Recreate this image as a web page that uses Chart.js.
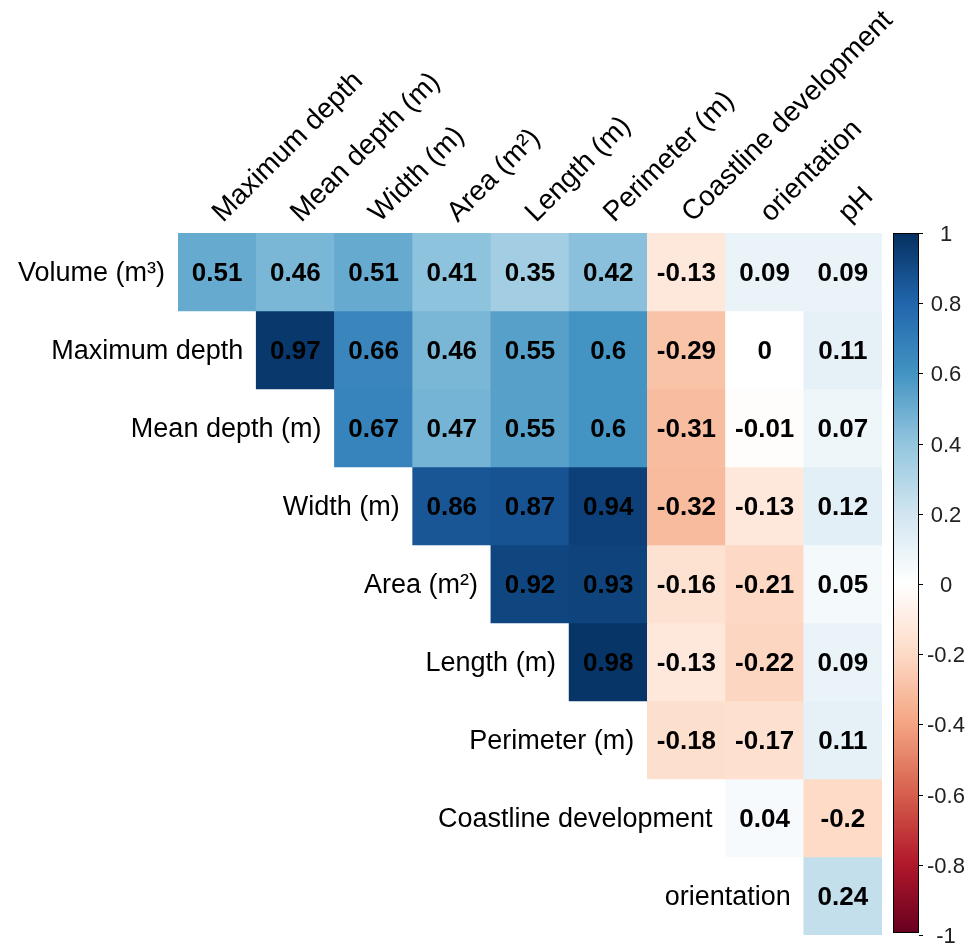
<!DOCTYPE html>
<html>
<head>
<meta charset="utf-8">
<title>Correlation matrix</title>
<script src="https://cdn.jsdelivr.net/npm/chart.js@4.4.1/dist/chart.umd.min.js"></script>
<style>
  html, body { margin: 0; padding: 0; background: #fff; }
  #wrap { width: 979px; height: 944px; position: relative; }
</style>
</head>
<body>
<div id="wrap"><canvas id="corr"></canvas></div>
<script>
// column and row names
var colLabels = ["Maximum depth", "Mean depth (m)", "Width (m)", "Area (m²)", "Length (m)",
  "Perimeter (m)", "Coastline development", "orientation", "pH"];
var rowLabels = ["Volume (m³)", "Maximum depth", "Mean depth (m)", "Width (m)", "Area (m²)",
  "Length (m)", "Perimeter (m)", "Coastline development", "orientation"];

// correlations, each row starts on the diagonal
var volumeRow = [0.51, 0.46, 0.51, 0.41, 0.35, 0.42, -0.13, 0.09, 0.09];
var maxDepthRow = [0.97, 0.66, 0.46, 0.55, 0.6, -0.29, 0, 0.11];
var meanDepthRow = [0.67, 0.47, 0.55, 0.6, -0.31, -0.01, 0.07];
var widthRow = [0.86, 0.87, 0.94, -0.32, -0.13, 0.12];
var areaRow = [0.92, 0.93, -0.16, -0.21, 0.05];
var lengthRow = [0.98, -0.13, -0.22, 0.09];
var perimeterRow = [-0.18, -0.17, 0.11];
var coastlineRow = [0.04, -0.2];
var orientationRow = [0.24];

// colour legend ticks
var legendTicks = [1, 0.8, 0.6, 0.4, 0.2, 0, -0.2, -0.4, -0.6, -0.8, -1];

var allRows = [volumeRow, maxDepthRow, meanDepthRow, widthRow, areaRow,
  lengthRow, perimeterRow, coastlineRow, orientationRow];

// RdBu palette from -1 to 1
var palette = ["#67001F", "#B2182B", "#D6604D", "#F4A582", "#FDDBC7", "#FFFFFF",
  "#D1E5F0", "#92C5DE", "#4393C3", "#2166AC", "#053061"];

function hexToRgb(h) {
  return [parseInt(h.substr(1, 2), 16), parseInt(h.substr(3, 2), 16), parseInt(h.substr(5, 2), 16)];
}

function colorFor(v) {
  var pos = (v + 1) / 2 * (palette.length - 1);
  var i = Math.min(Math.floor(pos), palette.length - 2);
  var t = pos - i;
  var a = hexToRgb(palette[i]);
  var b = hexToRgb(palette[i + 1]);
  var c = [0, 1, 2].map(function (k) { return Math.round(a[k] + (b[k] - a[k]) * t); });
  return "rgb(" + c.join(",") + ")";
}

// value at row r, column c (null below diagonal)
function cellValue(r, c) {
  if (c < r) return null;
  return allRows[r][c - r];
}

var FONT = "'Liberation Sans', Arial, sans-serif";

var datasets = allRows.map(function (row, r) {
  return {
    label: rowLabels[r],
    data: colLabels.map(function (name, c) {
      return c < r ? null : [r, r + 1];
    }),
    backgroundColor: function (ctx) {
      var v = cellValue(ctx.datasetIndex, ctx.dataIndex);
      return v === null ? "rgba(0,0,0,0)" : colorFor(v);
    },
    borderWidth: 0,
    grouped: false,
    barPercentage: 1,
    categoryPercentage: 1
  };
});

// labels, numbers and colour legend
var corrText = {
  id: "corrText",
  afterDatasetsDraw: function (chart) {
    var ctx = chart.ctx;
    var x = chart.scales.x;
    var y = chart.scales.y;
    var leg = chart.scales.legend;
    var half = (x.getPixelForValue(1) - x.getPixelForValue(0)) / 2;
    ctx.save();

    // numbers in cells
    ctx.fillStyle = "#000";
    ctx.font = "bold 26px " + FONT;
    ctx.textAlign = "center";
    ctx.textBaseline = "middle";
    for (var r = 0; r < rowLabels.length; r++) {
      for (var c = r; c < colLabels.length; c++) {
        ctx.fillText(String(cellValue(r, c)), x.getPixelForValue(c), y.getPixelForValue(r + 0.5) + 2);
      }
    }

    // row names left of first cell
    ctx.font = "27px " + FONT;
    ctx.textAlign = "right";
    for (var i = 0; i < rowLabels.length; i++) {
      ctx.fillText(rowLabels[i], x.getPixelForValue(i) - half - 13, y.getPixelForValue(i + 0.5) + 2);
    }

    // column names at 45 degrees
    ctx.font = "28px " + FONT;
    ctx.textAlign = "left";
    ctx.textBaseline = "alphabetic";
    for (var j = 0; j < colLabels.length; j++) {
      ctx.save();
      ctx.translate(x.getPixelForValue(j) + 6, chart.chartArea.top - 10);
      ctx.rotate(-Math.PI / 4);
      ctx.fillText(colLabels[j], 0, 0);
      ctx.restore();
    }

    // colour bar
    var bx = chart.chartArea.right + 11;
    var bw = 26;
    var top = leg.getPixelForValue(1);
    var bottom = leg.getPixelForValue(-1) - 2;
    var grad = ctx.createLinearGradient(0, bottom, 0, top);
    palette.forEach(function (col, k) {
      grad.addColorStop(k / (palette.length - 1), col);
    });
    ctx.fillStyle = grad;
    ctx.fillRect(bx, top, bw, bottom - top);
    ctx.strokeStyle = "#000";
    ctx.lineWidth = 1;
    ctx.strokeRect(bx + 0.5, top + 0.5, bw - 1, bottom - top - 1);

    ctx.font = "22px " + FONT;
    ctx.fillStyle = "#222";
    ctx.textAlign = "center";
    ctx.textBaseline = "middle";
    legendTicks.forEach(function (t) {
      var py = Math.round(leg.getPixelForValue(t)) + 0.5;
      ctx.beginPath();
      ctx.moveTo(bx + bw, py);
      ctx.lineTo(bx + bw + 4, py);
      ctx.stroke();
      ctx.fillText(String(t), bx + bw + 27, py + 1);
    });
    ctx.restore();
  }
};

new Chart(document.getElementById("corr").getContext("2d"), {
  type: "bar",
  data: {
    labels: colLabels,
    datasets: datasets
  },
  options: {
    responsive: true,
    maintainAspectRatio: false,
    animation: false,
    layout: {
      padding: { left: 178, top: 233, right: 97, bottom: 9 }
    },
    scales: {
      x: { type: "category", display: false, offset: true, grid: { display: false } },
      y: { type: "linear", display: false, min: 0, max: 9, reverse: true },
      legend: { type: "linear", display: false, min: -1, max: 1, position: "right" }
    },
    plugins: {
      legend: { display: false },
      tooltip: { enabled: false }
    }
  },
  plugins: [corrText]
});
</script>
</body>
</html>
